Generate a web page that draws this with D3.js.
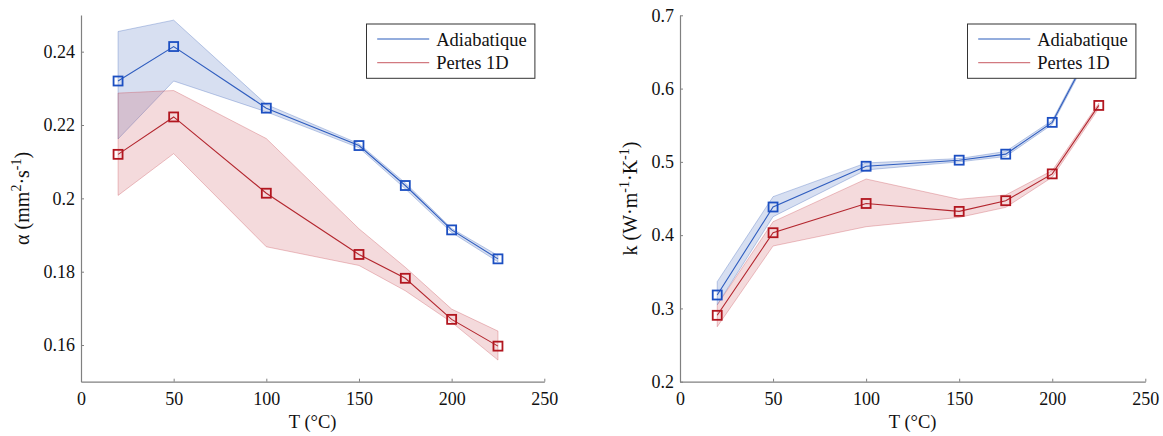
<!DOCTYPE html>
<html>
<head>
<meta charset="utf-8">
<script src="https://cdn.jsdelivr.net/npm/d3@7"></script>
<style>
  body { margin: 0; background: #fff; }
  svg { display: block; }
</style>
</head>
<body>
<svg id="chart" width="1163" height="436"></svg>
<script>
// ---------- data ----------
const temps = [20, 50, 100, 150, 175, 200, 225];
const xTicks = [0, 50, 100, 150, 200, 250];

const alphaTicks = [0.16, 0.18, 0.2, 0.22, 0.24];
const alphaAdia   = [0.2320, 0.2414, 0.2246, 0.2144, 0.2035, 0.1914, 0.1835];
const alphaAdiaUp = [0.2455, 0.2486, 0.2256, 0.2149, 0.2042, 0.1918, 0.1844];
const alphaAdiaLo = [0.2162, 0.2320, 0.2236, 0.2138, 0.2026, 0.1907, 0.1827];
const alphaPert   = [0.2120, 0.2222, 0.2014, 0.1847, 0.1782, 0.1670, 0.1597];
const alphaPertUp = [0.2287, 0.2294, 0.2163, 0.1917, 0.1812, 0.1698, 0.1638];
const alphaPertLo = [0.2008, 0.2122, 0.1868, 0.1817, 0.1748, 0.1662, 0.1559];

const kTicks = [0.2, 0.3, 0.4, 0.5, 0.6, 0.7];
const kAdia   = [0.3183, 0.4384, 0.4940, 0.5023, 0.5105, 0.5539, 0.6740];
const kAdiaUp = [0.3365, 0.4525, 0.4985, 0.5045, 0.5142, 0.5566, 0.6770];
const kAdiaLo = [0.3050, 0.4252, 0.4890, 0.5000, 0.5073, 0.5511, 0.6710];
const kPert   = [0.2906, 0.4033, 0.4432, 0.4324, 0.4470, 0.4836, 0.5770];
const kPertUp = [0.3047, 0.4183, 0.4766, 0.4489, 0.4548, 0.4881, 0.5800];
const kPertLo = [0.2750, 0.3852, 0.4115, 0.4242, 0.4379, 0.4790, 0.5730];

const legendLabels = ["Adiabatique", "Pertes 1D"];

// ---------- styles ----------
const FONT = '"Liberation Serif"';
const C = {
  blueLine: "#2f5dbf", blueMark: "#1c4fc2", blueFill: "rgba(72,108,190,0.22)", blueEdge: "rgba(72,108,190,0.35)", blueLeg: "#7092d2",
  redLine: "#b3262e", redMark: "#b2161f", redFill: "rgba(200,70,80,0.20)", redEdge: "rgba(200,70,80,0.32)", redLeg: "#d27a80",
  axis: "#808080"
};

const svg = d3.select("#chart");

function panel(opts) {
  const { x0, x1, y0, y1, yDomain, yTicks, series, ylabelParts, ylabelX } = opts;
  const x = d3.scaleLinear().domain([0, 250]).range([x0, x1]);
  const y = d3.scaleLinear().domain(yDomain).range([y1, y0]);
  const g = svg.append("g");

  // bands
  series.forEach(s => {
    const area = d3.area()
      .x((d, i) => x(temps[i]))
      .y0((d, i) => y(s.lo[i]))
      .y1((d, i) => y(s.up[i]));
    g.append("path").datum(s.vals).attr("d", area)
      .attr("fill", s.fill).attr("stroke", s.edge).attr("stroke-width", 1);
  });
  // lines
  series.forEach(s => {
    const line = d3.line().x((d, i) => x(temps[i])).y(d => y(d));
    g.append("path").datum(s.vals).attr("d", line)
      .attr("fill", "none").attr("stroke", s.line).attr("stroke-width", 1.1);
  });
  // markers
  const ms = 9;
  series.forEach(s => {
    g.selectAll(null).data(s.vals).enter().append("rect")
      .attr("x", (d, i) => x(temps[i]) - ms / 2)
      .attr("y", d => y(d) - ms / 2)
      .attr("width", ms).attr("height", ms)
      .attr("fill", "none").attr("stroke", s.mark).attr("stroke-width", 1.8);
  });

  // axes
  const fmt = d => String(+d.toFixed(2));
  const ax = g.append("g").attr("transform", `translate(0,${y1})`)
    .call(d3.axisBottom(x).tickValues(xTicks).tickSizeInner(-3).tickSizeOuter(0).tickPadding(11).tickFormat(fmt));
  const ay = g.append("g").attr("transform", `translate(${x0},0)`)
    .call(d3.axisLeft(y).tickValues(yTicks).tickSizeInner(-3).tickSizeOuter(0).tickPadding(6).tickFormat(fmt));
  [ax, ay].forEach(a => {
    a.attr("font-family", null).attr("font-size", null);
    a.select(".domain").attr("stroke", C.axis).attr("stroke-width", 1.2);
    a.selectAll(".tick line").attr("stroke", C.axis);
    a.selectAll(".tick text").attr("fill", "#111").style("font-size", "18px").style("font-family", FONT);
  });

  // x label
  g.append("text").attr("x", (x0 + x1) / 2).attr("y", 428)
    .attr("text-anchor", "middle").style("font-size", "18.5px").style("font-family", FONT).attr("fill", "#111")
    .text("T (°C)");

  // y label
  const yl = g.append("text")
    .attr("transform", `translate(${ylabelX},${(y0 + y1) / 2}) rotate(-90)`)
    .attr("text-anchor", "middle").style("font-size", "20px").style("font-family", FONT).attr("fill", "#111");
  ylabelParts.forEach(p => {
    yl.append("tspan").attr("dy", p.dy).style("font-family", FONT)
      .style("font-size", p.sup ? "14px" : "20px").text(p.t);
  });

  // legend
  const lw = 168.4, lh = 54.3;
  const lx = x1 - 9.4 - lw, ly = 24;
  const lg = g.append("g");
  lg.append("rect").attr("x", lx).attr("y", ly).attr("width", lw).attr("height", lh)
    .attr("fill", "#fff").attr("stroke", "#333").attr("stroke-width", 1);
  series.forEach((s, i) => {
    const ry = ly + 15 + i * 23.7;
    lg.append("line").attr("x1", lx + 10.7).attr("x2", lx + 62.7).attr("y1", ry).attr("y2", ry)
      .attr("stroke", s.leg).attr("stroke-width", 1.3);
    lg.append("text").attr("x", lx + 69.7).attr("y", ry + 6.5)
      .style("font-size", "18.5px").style("font-family", FONT).attr("fill", "#111").text(legendLabels[i]);
  });
}

panel({
  x0: 81, x1: 544.3, y0: 15, y1: 381.7, yDomain: [0.15, 0.25], yTicks: alphaTicks, ylabelX: 29,
  series: [
    { vals: alphaAdia, up: alphaAdiaUp, lo: alphaAdiaLo, line: C.blueLine, mark: C.blueMark, fill: C.blueFill, edge: C.blueEdge, leg: C.blueLeg },
    { vals: alphaPert, up: alphaPertUp, lo: alphaPertLo, line: C.redLine, mark: C.redMark, fill: C.redFill, edge: C.redEdge, leg: C.redLeg }
  ],
  ylabelParts: [
    { t: "α (mm", dy: 0 }, { t: "2", dy: -8, sup: true }, { t: "·s", dy: 8 },
    { t: "-1", dy: -8, sup: true }, { t: ")", dy: 8 }
  ]
});

panel({
  x0: 680, x1: 1145.3, y0: 15.3, y1: 381.7, yDomain: [0.2, 0.7], yTicks: kTicks, ylabelX: 637,
  series: [
    { vals: kAdia, up: kAdiaUp, lo: kAdiaLo, line: C.blueLine, mark: C.blueMark, fill: C.blueFill, edge: C.blueEdge, leg: C.blueLeg },
    { vals: kPert, up: kPertUp, lo: kPertLo, line: C.redLine, mark: C.redMark, fill: C.redFill, edge: C.redEdge, leg: C.redLeg }
  ],
  ylabelParts: [
    { t: "k (W·m", dy: 0 }, { t: "-1", dy: -8, sup: true }, { t: "·K", dy: 8 },
    { t: "-1", dy: -8, sup: true }, { t: ")", dy: 8 }
  ]
});
</script>
</body>
</html>
